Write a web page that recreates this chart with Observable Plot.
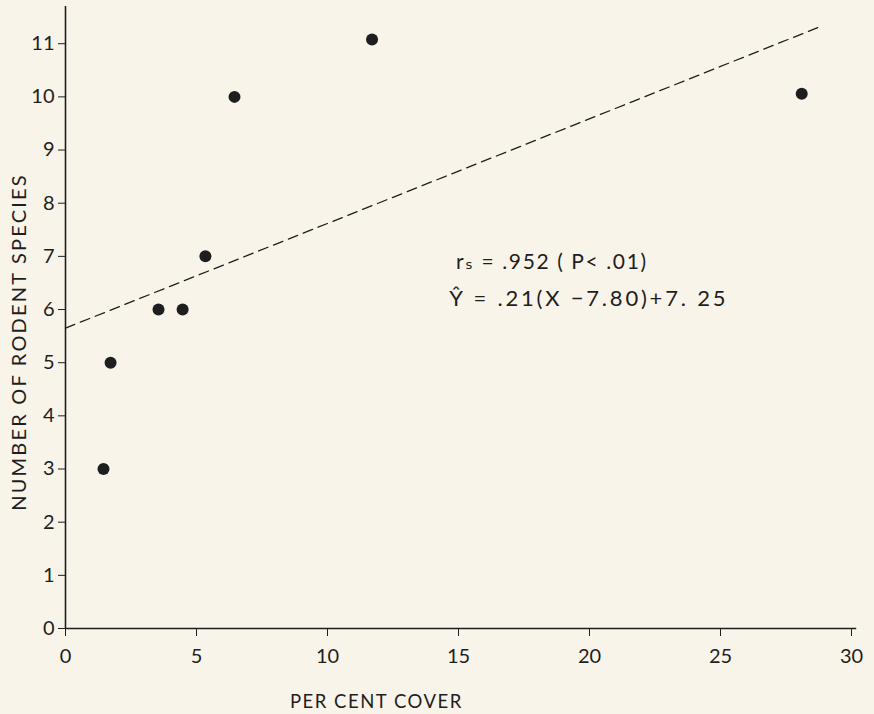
<!DOCTYPE html>
<html><head><meta charset="utf-8">
<script src="https://cdn.jsdelivr.net/npm/d3@7"></script>
<script src="https://cdn.jsdelivr.net/npm/@observablehq/plot@0.6"></script>
<style>
html,body{margin:0;padding:0;background:#f8f4ea;}
#chart svg{display:block;}
</style>
</head><body><div id="chart"></div>
<script>
const cover = [1.45, 1.72, 3.55, 4.47, 5.34, 6.45, 11.7, 28.1];
const species = [3, 5, 6, 6, 7, 10, 11.08, 10.06];
const fitX = [0, 28.9];
const fitY = [5.65, 11.34];
const xTicks = [0, 5, 10, 15, 20, 25, 30];
const yTicks = [0, 1, 2, 3, 4, 5, 6, 7, 8, 9, 10, 11];
const noteLines = ["rₛ = .952 ( P< .01)", "Ŷ = .21(X −7.80)+7. 25"];
const noteX = [14.9, 14.65];
const noteY = [6.88, 6.2];

const pts = cover.map((x, i) => ({x, y: species[i]}));
const fit = fitX.map((x, i) => ({x, y: fitY[i]}));
const notes = noteLines.map((t, i) => ({t, x: noteX[i], y: noteY[i]}));

const ink = "#1e1e1e";
const chart = Plot.plot({
  width: 874, height: 714,
  marginLeft: 65, marginRight: 23, marginTop: 6, marginBottom: 86,
  style: {background: "#f8f4ea", fontFamily: "Lato, 'DejaVu Sans', sans-serif", fontSize: "20px", color: ink},
  x: {domain: [0, 30], label: null},
  y: {domain: [0, 11.7], label: null},
  marks: [
    Plot.ruleY([0], {x1: 0, x2: 30.2, stroke: ink, strokeWidth: 1.6}),
    Plot.ruleX([0], {y1: 0, y2: 11.7, stroke: ink, strokeWidth: 1.6}),
    Plot.axisX({ticks: xTicks, tickSize: 8, tickPadding: 12, stroke: ink, fill: ink, fontSize: 20, label: null}),
    Plot.axisY({ticks: yTicks, tickSize: 7, tickPadding: 4, stroke: ink, fill: ink, fontSize: 20, label: null}),
    Plot.line(fit, {x: "x", y: "y", stroke: ink, strokeWidth: 1.3, strokeDasharray: "10,6"}),
    Plot.dot(pts, {x: "x", y: "y", r: 6, fill: ink, stroke: "none"}),
    Plot.text([notes[0]], {x: "x", y: "y", text: "t", textAnchor: "start", fontSize: 21, fill: ink, className: "note1"}),
    Plot.text([notes[1]], {x: "x", y: "y", text: "t", textAnchor: "start", fontSize: 22, fill: ink, className: "note2"})
  ]
});
const div = document.getElementById("chart");
div.appendChild(chart);
const svg = d3.select(chart);
svg.selectAll(".note1 text").style("letter-spacing", "1.6px");
svg.selectAll(".note2 text").style("letter-spacing", "2.8px");
svg.append("text").attr("x", 290).attr("y", 708).attr("fill", ink).attr("text-anchor", "start")
  .attr("font-size", 18.5).attr("letter-spacing", "1.5px").text("PER CENT COVER");
svg.append("text").attr("transform", "translate(26,342) rotate(-90)").attr("text-anchor", "middle")
  .attr("fill", ink).attr("font-size", 20).attr("letter-spacing", "2.2px").text("NUMBER OF RODENT SPECIES");
</script></body></html>
